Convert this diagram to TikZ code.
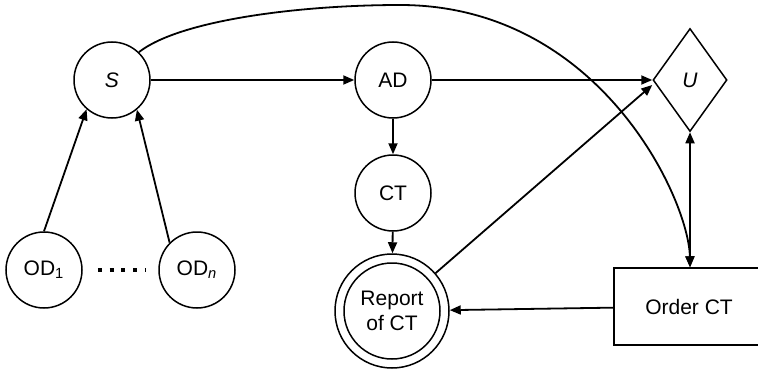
\documentclass[tikz,border=0pt]{standalone}
\usepackage{fontspec}
\setmainfont{Liberation Sans}
\usetikzlibrary{arrows.meta,shapes.geometric}

\begin{document}
\begin{tikzpicture}[x=0.5pt,y=-0.5pt,
  every node/.style={font=\fontsize{10.5}{12.6}\selectfont},
  chance/.style={circle,draw,line width=0.75pt,inner sep=0pt,minimum size=38pt},
  utility/.style={diamond,draw,line width=0.75pt,inner sep=0pt,minimum width=37pt,minimum height=51.5pt},
  decision/.style={rectangle,draw,line width=0.75pt,minimum width=75pt,minimum height=38.5pt},
  arc/.style={-{Triangle[length=5.5pt,width=4.5pt]},line width=0.9pt},
  both/.style={{Triangle[length=5.5pt,width=4.5pt]}-{Triangle[length=5.5pt,width=4.5pt]},line width=0.9pt}]
\useasboundingbox (0,0) rectangle (758,369);

\node[chance] at (112,80)	(S) {\textit{S}};
\node[chance] at (393,80)	(AD) {AD};
\node[utility] at (690,80)	(U) {\textit{U}};
\node[chance] at (393,193)	(CT) {CT};
\node[chance,minimum size=57pt] at (392,311)	(report) {};
\node[chance,minimum size=48pt,align=center] at (392,311)	(reportin) {Report\\of CT};
\node[decision] at (689,306.5)	(order) {Order CT};
\node[chance] at (44,270)	(OD1) {OD\textsubscript{1}};
\node[chance] at (197,270)	(ODn) {OD\textsubscript{\textit{n}}};
\coordinate (top) at (400,5);

\draw[line width=2pt,dash pattern=on 2pt off 3.9pt] ([xshift=7.5pt]OD1.east) -- ([xshift=-6pt]ODn.west);
\draw[arc] (OD1.north) -- (S.229);
\draw[arc] (ODn.135) -- (S.-50);
\draw[arc] (S) -- (AD);
\draw[arc] (AD) -- (U);
\draw[arc] (AD) -- (CT);
\draw[arc] (CT) -- (report);
\draw[arc] (report.41) -- ([yshift=-2.5pt]U.west);
\draw[arc] (order) -- (report);
\draw[both] (U.south) -- (U.south |- order.north);
\draw[arc] (S.46) .. controls (180,20) and (300,5) .. (top) .. controls (600,5) and (689,200) .. (U.south |- order.north);
\end{tikzpicture}
\end{document}
